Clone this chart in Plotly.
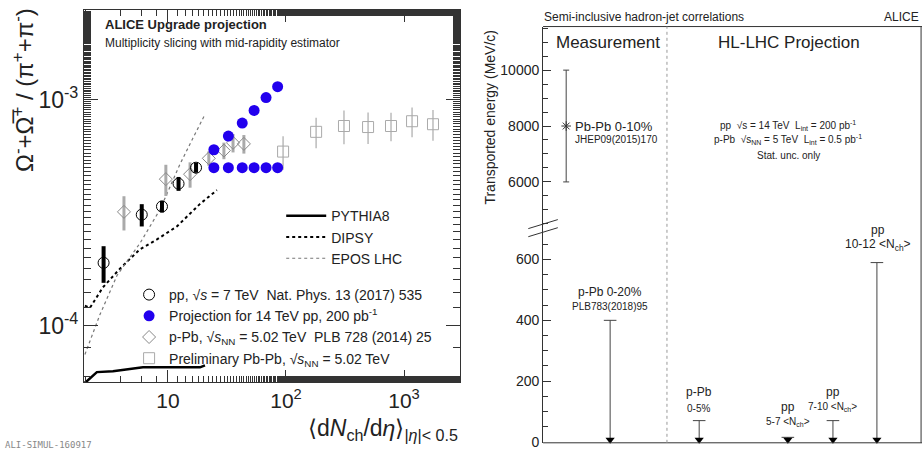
#plotly
import plotly.graph_objs as go

#left panel data
pp_x = [2.85, 6.0, 8.9, 12.3, 17.3]
pp_y = [1.9e-4, 3.1e-4, 3.37e-4, 4.25e-4, 5.0e-4]
pp_err = [0.35e-4, 0.35e-4, 0.2e-4, 0.3e-4, 0.25e-4]

proj_x = [24.5, 32.5, 42.6, 53.7, 67.8, 85.0]
proj_hi = [6.0e-4, 6.9e-4, 7.87e-4, 8.95e-4, 1.02e-3, 1.14e-3]
proj_lo = [5.0e-4, 5.0e-4, 5.0e-4, 5.0e-4, 5.0e-4, 5.0e-4]

ppb_x = [4.24, 9.6, 15.4, 22.2, 29.8, 35.6, 44.0]
ppb_y = [3.19e-4, 4.45e-4, 4.68e-4, 5.5e-4, 5.95e-4, 6.44e-4, 6.37e-4]
ppb_err = [0.55e-4, 0.7e-4, 0.6e-4, 0.4e-4, 0.5e-4, 0.6e-4, 0.6e-4]

pbpb_x = [94.5, 180, 310, 496, 776, 1170, 1760]
pbpb_y = [5.89e-4, 7.2e-4, 7.64e-4, 7.56e-4, 7.64e-4, 8.02e-4, 7.78e-4]
pbpb_err = [1.0e-4, 1.1e-4, 1.3e-4, 1.2e-4, 1.1e-4, 1.2e-4, 1.2e-4]

pythia_x = [1.95, 2.02, 2.5, 3.42, 6.14, 9.8, 18.7, 20.6]
pythia_y = [5.6e-5, 5.65e-5, 6.25e-5, 6.3e-5, 6.56e-5, 6.56e-5, 6.56e-5, 6.7e-5]
dipsy_x = [1.98, 2.18, 2.81, 3.92, 5.79, 8.07, 11.9, 18.7, 26.0]
dipsy_y = [1.23e-4, 1.2e-4, 1.48e-4, 1.79e-4, 2.18e-4, 2.41e-4, 2.75e-4, 3.46e-4, 3.98e-4]
epos_x = [1.98, 2.65, 3.7, 5.8, 8.55, 12.6, 16.3, 20.6]
epos_y = [7.48e-5, 1.12e-4, 1.67e-4, 2.32e-4, 3.26e-4, 5.16e-4, 6.76e-4, 8.6e-4]

#right panel data
pbpb_pos = [0.61]
pbpb_energy = [8000]
pbpb_energy_err = [2000]
limit_pos = [1.77, 4.12, 6.46, 7.65, 8.81]
limit_val = [400, 70, 15, 70, 590]

font = "Liberation Sans"
traces = []

#model curves
traces.append(go.Scatter(x=pythia_x, y=pythia_y, mode="lines", name="PYTHIA8", legend="legend",
                         line=dict(color="black", width=2.5)))
traces.append(go.Scatter(x=dipsy_x, y=dipsy_y, mode="lines", name="DIPSY", legend="legend",
                         line=dict(color="black", width=2, dash="dot")))
traces.append(go.Scatter(x=epos_x, y=epos_y, mode="lines", name="EPOS LHC", legend="legend",
                         line=dict(color="#777777", width=1.2, dash="dot")))

#data points
traces.append(go.Scatter(x=pbpb_x, y=pbpb_y, mode="markers", legend="legend2", legendrank=4,
                         name="Preliminary Pb-Pb, √<i>s</i><sub>NN</sub> = 5.02 TeV",
                         marker=dict(symbol="square-open", size=11, color="#aaaaaa", line=dict(width=1)),
                         error_y=dict(type="data", array=pbpb_err, color="#bbbbbb", thickness=1.5, width=0)))
traces.append(go.Scatter(x=ppb_x, y=ppb_y, mode="markers", legend="legend2", legendrank=3,
                         name="p-Pb, √<i>s</i><sub>NN</sub> = 5.02 TeV  PLB 728 (2014) 25",
                         marker=dict(symbol="diamond-open", size=10, color="#888888", line=dict(width=1)),
                         error_y=dict(type="data", array=ppb_err, color="#aaaaaa", thickness=3, width=0)))
traces.append(go.Scatter(x=pp_x, y=pp_y, mode="markers", legend="legend2", legendrank=1,
                         name="pp, √<i>s</i> = 7 TeV  Nat. Phys. 13 (2017) 535",
                         marker=dict(symbol="circle-open", size=11, color="black", line=dict(width=1)),
                         error_y=dict(type="data", array=pp_err, color="black", thickness=4, width=0)))
traces.append(go.Scatter(x=proj_x + proj_x, y=proj_hi + proj_lo, mode="markers", legend="legend2", legendrank=2,
                         name="Projection for 14 TeV pp, 200 pb<sup>-1</sup>",
                         marker=dict(symbol="circle", size=11, color="#2200ee")))

#right panel: measurement and upper limits
traces.append(go.Scatter(x=pbpb_pos, y=pbpb_energy, xaxis="x2", yaxis="y2", mode="markers", showlegend=False,
                         marker=dict(symbol="asterisk-open", size=8, color="#333333", line=dict(width=1)),
                         error_y=dict(type="data", array=pbpb_energy_err, color="#444444", thickness=1, width=3)))
for pos, val in zip(limit_pos, limit_val):
    traces.append(go.Scatter(x=[pos, pos], y=[0, val], xaxis="x2", yaxis="y3", mode="lines", showlegend=False,
                             line=dict(color="#444444", width=1)))
traces.append(go.Scatter(x=limit_pos, y=limit_val, xaxis="x2", yaxis="y3", mode="markers", showlegend=False,
                         marker=dict(symbol="line-ew-open", size=9, color="#444444", line=dict(width=1))))
traces.append(go.Scatter(x=limit_pos, y=[7] * len(limit_pos), xaxis="x2", yaxis="y3", mode="markers", showlegend=False,
                         cliponaxis=False, marker=dict(symbol="triangle-down", size=8, color="black")))

axis_style = dict(showgrid=False, zeroline=False, showline=True, linecolor="#333333", linewidth=1,
                  ticks="inside", tickcolor="#333333", mirror="ticks")

titles = go.Layout(
    width=922, height=457,
    margin=dict(l=0, r=0, t=0, b=0),
    paper_bgcolor="white", plot_bgcolor="white",
    font=dict(family=font, color="#222222"),
    xaxis=dict(axis_style, type="log", domain=[0.091, 0.499], range=[0.288, 3.475],
               tickvals=[10, 100, 1000], ticktext=["10", "10<sup>2</sup>", "10<sup>3</sup>"],
               ticklen=12, tickfont=dict(size=21),
               minor=dict(ticks="inside", ticklen=6, tickcolor="#333333", showgrid=False)),
    yaxis=dict(axis_style, type="log", domain=[0.151, 0.978], range=[-4.248, -2.604],
               tickvals=[1e-4, 1e-3], ticktext=["10<sup>-4</sup>", "10<sup>-3</sup>"],
               ticklen=14, tickfont=dict(size=23),
               minor=dict(ticks="inside", ticklen=7, tickcolor="#333333", showgrid=False)),
    xaxis2=dict(showgrid=False, zeroline=False, showline=False, domain=[0.589, 1.0], range=[0, 10],
                showticklabels=False, ticks="", anchor="y3"),
    yaxis2=dict(showgrid=False, zeroline=False, showline=True, linecolor="#333333", anchor="x2",
                domain=[0.484, 0.941], range=[4200, 11560], tickvals=[6000, 8000, 10000],
                ticktext=["6000", "8000", "10000"],
                ticks="inside", ticklen=8, tickcolor="#333333", tickfont=dict(size=14),
                minor=dict(dtick=500, ticks="inside", ticklen=5, tickcolor="#333333")),
    yaxis3=dict(showgrid=False, zeroline=False, showline=True, linecolor="#333333", anchor="x2",
                domain=[0.016, 0.484], range=[-3, 690], tickvals=[0, 200, 400, 600],
                ticks="inside", ticklen=8, tickcolor="#333333", tickfont=dict(size=14),
                minor=dict(dtick=50, ticks="inside", ticklen=5, tickcolor="#333333")),
    legend=dict(x=0.305, y=0.555, xanchor="left", yanchor="top", bgcolor="rgba(0,0,0,0)",
                font=dict(size=14), tracegroupgap=0, itemwidth=40),
    legend2=dict(x=0.14, y=0.38, xanchor="left", yanchor="top", bgcolor="rgba(0,0,0,0)",
                 font=dict(size=14), tracegroupgap=0, traceorder="normal"),
)

fig = go.Figure(data=traces, layout=titles)

#text
notes = [
    (0.112, 0.945, "<b>ALICE Upgrade projection</b>", 13, "left", 0),
    (0.112, 0.905, "Multiplicity slicing with mid-rapidity estimator", 12, "left", 0),
    (0.003, 0.012, "ALI-SIMUL-160917", 9, "left", 0),
    (0.588, 0.962, "Semi-inclusive hadron-jet correlations", 12, "left", 0),
    (0.999, 0.962, "ALICE", 12, "right", 0),
    (0.659, 0.905, "Measurement", 17, "center", 0),
    (0.856, 0.905, "HL-LHC Projection", 17, "center", 0),
    (0.621, 0.720, "Pb-Pb 0-10%", 13, "left", 0),
    (0.621, 0.690, "JHEP09(2015)170", 10, "left", 0),
    (0.662, 0.352, "p-Pb 0-20%", 12, "center", 0),
    (0.662, 0.318, "PLB783(2018)95", 10, "center", 0),
    (0.855, 0.722, "pp  √s = 14 TeV  L<sub>int</sub> = 200 pb<sup>-1</sup>", 10, "center", 0),
    (0.855, 0.691, "p-Pb  √s<sub>NN</sub> = 5 TeV  L<sub>int</sub> = 0.5 pb<sup>-1</sup>", 10, "center", 0),
    (0.855, 0.654, "Stat. unc. only", 10, "center", 0),
    (0.758, 0.129, "p-Pb", 12, "center", 0),
    (0.758, 0.092, "0-5%", 10, "center", 0),
    (0.855, 0.096, "pp", 12, "center", 0),
    (0.855, 0.063, "5-7 <N<sub>ch</sub>>", 10, "center", 0),
    (0.903, 0.129, "pp", 12, "center", 0),
    (0.903, 0.096, "7-10 <N<sub>ch</sub>>", 10, "center", 0),
    (0.952, 0.488, "pp", 12, "center", 0),
    (0.952, 0.455, "10-12 <N<sub>ch</sub>>", 12, "center", 0),
    (0.531, 0.740, "Transported energy (MeV/c)", 14, "center", -90),
    (0.025, 0.80, "Ω<sup>-</sup>+Ω̅<sup>+</sup> / (π<sup>+</sup>+π<sup>-</sup>)", 24, "center", -90),
    (0.499, 0.045, "⟨d<i>N</i><sub>ch</sub>/d<i>η</i>⟩<sub>|<i>η</i>|< 0.5</sub>", 23, "right", 0),
]
for x, y, text, size, align, angle in notes:
    fig.add_annotation(x=x, y=y, xref="paper", yref="paper", text=text, showarrow=False,
                       xanchor=align, yanchor="middle", textangle=angle,
                       font=dict(family="DejaVu Sans Mono" if text.startswith("ALI-") else font,
                                 size=size, color="#888888" if text.startswith("ALI-") else "#222222"))

#frame and divider of the right panel
fig.add_shape(type="line", xref="paper", yref="paper", x0=0.589, x1=1.0, y0=0.941, y1=0.941,
              line=dict(color="#333333", width=1))
fig.add_shape(type="line", xref="paper", yref="paper", x0=0.589, x1=1.0, y0=0.016, y1=0.016,
              line=dict(color="#333333", width=1))
fig.add_shape(type="line", xref="paper", yref="paper", x0=0.999, x1=0.999, y0=0.016, y1=0.941,
              line=dict(color="#333333", width=1))
fig.add_shape(type="line", xref="x2", yref="paper", x0=3.27, x1=3.27, y0=0.016, y1=0.941,
              line=dict(color="#999999", width=1, dash="dot"))
for dy in [0.0, 0.018]:
    fig.add_shape(type="line", xref="paper", yref="paper", x0=0.573, x1=0.605, y0=0.474 + dy, y1=0.494 + dy,
                  line=dict(color="#333333", width=1))

fig.write_html("out.html", config={"displayModeBar": False},
               post_script="document.body.style.margin='0';document.body.style.overflow='hidden';")
